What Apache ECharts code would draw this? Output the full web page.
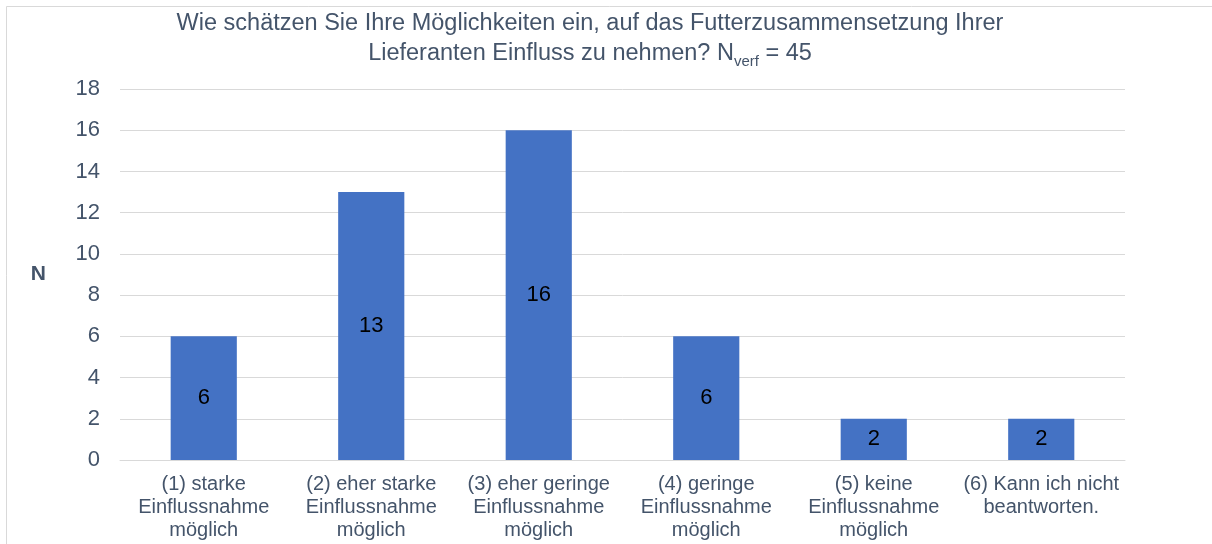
<!DOCTYPE html>
<html style="height: 100%">
<head>
 <meta charset="utf-8">
 <title>Futterzusammensetzung</title>
</head>
<body style="height: 100%; margin: 0; background: #fff">
 <div id="container" style="width: 1212px; height: 544px"></div>
 <script type="text/javascript" src="https://cdn.jsdelivr.net/npm/echarts@6/dist/echarts.min.js"></script>
 <script type="text/javascript">
    var categories = [
        '(1) starke\nEinflussnahme\nmöglich',
        '(2) eher starke\nEinflussnahme\nmöglich',
        '(3) eher geringe\nEinflussnahme\nmöglich',
        '(4) geringe\nEinflussnahme\nmöglich',
        '(5) keine\nEinflussnahme\nmöglich',
        '(6) Kann ich nicht\nbeantworten.'
    ];
    var counts = [6, 13, 16, 6, 2, 2];
    var titleLines = [
        'Wie schätzen Sie Ihre Möglichkeiten ein, auf das Futterzusammensetzung Ihrer',
        'Lieferanten Einfluss zu nehmen? N{sub|verf} = 45'
    ];

    var font = "'Liberation Sans', Arial, sans-serif";
    var grey = '#44546a';

    var dom = document.getElementById('container');
    var myChart = echarts.init(dom);
    myChart.setOption({
        backgroundColor: '#fff',
        animation: false,
        title: {
            text: titleLines.join('\n'),
            left: 590,
            textAlign: 'center',
            top: 9,
            padding: 0,
            textStyle: {
                color: grey,
                fontFamily: font,
                fontSize: 23.5,
                fontWeight: 'normal',
                lineHeight: 30,
                rich: {
                    sub: {
                        color: grey,
                        fontFamily: font,
                        fontSize: 15,
                        verticalAlign: 'bottom',
                        lineHeight: 22
                    }
                }
            }
        },
        graphic: [{
            type: 'rect',
            shape: { x: 6.5, y: 6.5, width: 1400, height: 700 },
            style: { fill: null, stroke: '#d9d9d9', lineWidth: 1 },
            silent: true,
            z: -1
        }],
        grid: {
            left: 120,
            right: 87,
            top: 89,
            bottom: 84,
            outerBoundsMode: 'none'
        },
        xAxis: {
            type: 'category',
            data: categories,
            axisLine: { lineStyle: { color: '#d9d9d9' } },
            axisTick: { show: false },
            axisLabel: {
                interval: 0,
                margin: 13,
                color: grey,
                fontFamily: font,
                fontSize: 20,
                lineHeight: 23
            }
        },
        yAxis: {
            type: 'value',
            min: 0,
            max: 18,
            interval: 2,
            name: 'N',
            nameLocation: 'middle',
            nameRotate: 0,
            nameGap: 74,
            nameTextStyle: {
                color: grey,
                fontFamily: font,
                fontSize: 21,
                fontWeight: 'bold'
            },
            axisLine: { show: false },
            axisTick: { show: false },
            axisLabel: {
                margin: 20,
                color: grey,
                fontFamily: font,
                fontSize: 22
            },
            splitLine: { lineStyle: { color: '#d9d9d9' } }
        },
        series: [{
            type: 'bar',
            data: counts,
            barWidth: '39.5%',
            itemStyle: { color: '#4472C4' },
            label: {
                show: true,
                position: 'inside',
                color: '#000',
                fontFamily: font,
                fontSize: 22
            }
        }]
    });
</script>
</body>
</html>
